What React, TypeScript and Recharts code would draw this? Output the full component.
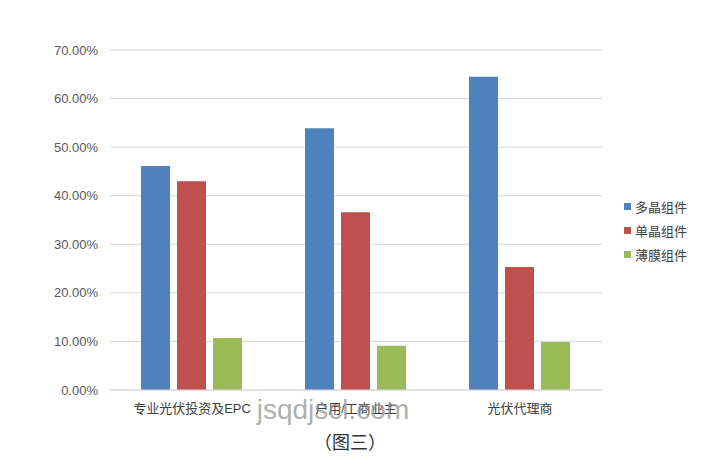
import React from 'react';
import { BarChart, Bar, XAxis, YAxis, CartesianGrid, Legend } from 'recharts';

const categories = ['专业光伏投资及EPC', '户用/工商业主', '光伏代理商'];
const polySi = [46.1, 53.9, 64.5];
const monoSi = [43.0, 36.6, 25.3];
const thinFilm = [10.7, 9.1, 9.9];
const yTicks = [0, 10, 20, 30, 40, 50, 60, 70];

const series = [
  { key: 'poly', name: '多晶组件', color: '#4F81BD' },
  { key: 'mono', name: '单晶组件', color: '#C0504D' },
  { key: 'thin', name: '薄膜组件', color: '#9BBB59' },
];

const data = categories.map((name, i) => ({
  name,
  poly: polySi[i],
  mono: monoSi[i],
  thin: thinFilm[i],
}));

const font = 'Arial, "Liberation Sans", "Noto Sans CJK SC", sans-serif';

const renderLegend = () => (
  <div style={{ fontSize: 13, color: '#404040', fontFamily: font }}>
    {series.map((s) => (
      <div key={s.key} style={{ height: 24, display: 'flex', alignItems: 'center' }}>
        <span style={{ display: 'inline-block', width: 7, height: 7, background: s.color, marginRight: 4 }} />
        <span>{s.name}</span>
      </div>
    ))}
  </div>
);

const App = () => {
  return (
    <div style={{ position: 'absolute', left: 0, top: 0, width: 711, height: 475, background: '#fff', fontFamily: font }}>
      <BarChart
        width={711}
        height={475}
        data={data}
        margin={{ top: 50, right: 109, bottom: 55, left: 0 }}
        barCategoryGap={31}
        barGap={7}
      >
        <CartesianGrid vertical={false} stroke="#D9D9D9" />
        <XAxis
          dataKey="name"
          height={30}
          axisLine={{ stroke: '#D9D9D9' }}
          tickLine={false}
          tick={{ fill: '#404040', fontSize: 13, fontFamily: font }}
          tickMargin={8}
        />
        <YAxis
          width={110}
          domain={[0, 70]}
          ticks={yTicks}
          axisLine={false}
          tickLine={false}
          tickMargin={6}
          tick={{ fill: '#595959', fontSize: 13, fontFamily: font }}
          tickFormatter={(v: number) => v.toFixed(2) + '%'}
        />
        <Legend
          layout="vertical"
          verticalAlign="middle"
          align="center"
          content={renderLegend}
          wrapperStyle={{ left: 624, top: 194, width: 90 }}
        />
        {series.map((s) => (
          <Bar key={s.key} dataKey={s.key} name={s.name} fill={s.color} isAnimationActive={false} />
        ))}
      </BarChart>
      <div
        style={{
          position: 'absolute',
          left: 0,
          width: 666,
          top: 394,
          textAlign: 'center',
          fontSize: 28,
          color: 'rgba(140,140,140,0.7)',
          fontFamily: font,
          pointerEvents: 'none',
        }}
      >
        jsqdjscl.com
      </div>
      <div
        style={{
          position: 'absolute',
          left: 0,
          width: 700,
          top: 428,
          textAlign: 'center',
          fontSize: 18,
          color: '#333',
          fontFamily: font,
        }}
      >
        （图三）
      </div>
    </div>
  );
};

export default App;
